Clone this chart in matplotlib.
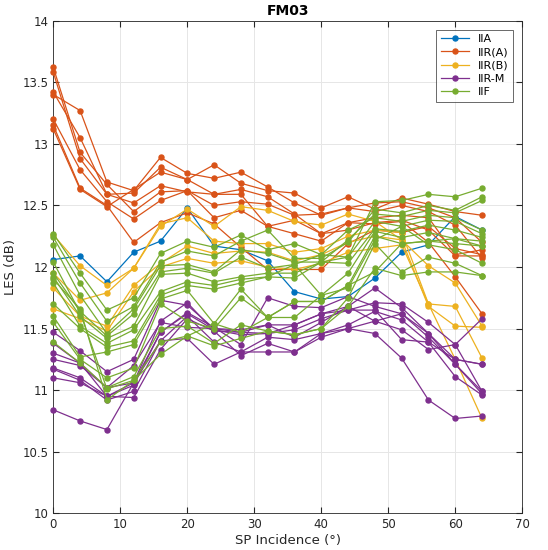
import matplotlib
matplotlib.use("Agg")
import matplotlib.pyplot as plt
import numpy as np

x_deg = [0, 4, 8, 12, 16, 20, 24, 28, 32, 36, 40, 44, 48, 52, 56, 60, 64]

iia = [[12.06, 12.09, 11.88, 12.12, 12.21, 12.48, 12.17, 12.14, 12.05, 11.80, 11.74, 11.76, 11.91, 12.12, 12.18, 12.41, 12.30]]

iir_a = [
    [13.62, 12.93, 12.67, 12.45, 12.61, 12.62, 12.50, 12.53, 12.51, 12.42, 12.43, 12.48, 12.45, 12.50, 12.45, 12.34, 12.07],
    [13.58, 12.88, 12.59, 12.60, 12.81, 12.71, 12.83, 12.68, 12.62, 12.60, 12.48, 12.57, 12.47, 12.56, 12.51, 12.45, 12.42],
    [13.40, 13.27, 12.69, 12.62, 12.89, 12.76, 12.72, 12.77, 12.65, 12.52, 12.42, 12.48, 12.52, 12.53, 12.48, 12.40, 12.20],
    [13.42, 13.05, 12.59, 12.52, 12.66, 12.61, 12.59, 12.63, 12.57, 12.43, 12.27, 12.36, 12.40, 12.42, 12.40, 12.10, 12.14],
    [13.20, 12.79, 12.53, 12.39, 12.54, 12.62, 12.40, 12.46, 12.33, 12.38, 12.27, 12.30, 12.36, 12.38, 12.30, 12.09, 12.09],
    [13.15, 12.64, 12.50, 12.20, 12.36, 12.44, 12.35, 12.16, 11.98, 11.98, 11.98, 12.19, 12.30, 12.28, 12.33, 12.15, 12.10],
    [13.12, 12.63, 12.49, 12.63, 12.77, 12.71, 12.59, 12.59, 12.33, 12.27, 12.21, 12.36, 12.35, 12.37, 12.20, 11.92, 11.62],
]

iir_b = [
    [12.26, 12.01, 11.85, 11.99, 12.33, 12.47, 12.33, 12.49, 12.46, 12.37, 12.34, 12.43, 12.37, 12.22, 12.01, 11.87, 11.52],
    [11.95, 11.73, 11.79, 11.99, 12.35, 12.40, 12.21, 12.19, 12.19, 12.12, 12.15, 12.25, 12.30, 12.28, 11.70, 11.68, 11.26],
    [11.83, 11.60, 11.52, 11.85, 12.03, 12.17, 12.11, 12.13, 12.12, 12.05, 12.10, 12.20, 12.25, 12.22, 11.68, 11.52, 11.51],
    [11.66, 11.58, 11.48, 11.80, 12.00, 12.07, 12.03, 12.05, 12.00, 11.98, 12.03, 12.12, 12.15, 12.18, 11.70, 11.25, 10.77],
]

iir_m = [
    [11.47, 11.32, 11.15, 11.25, 11.73, 11.69, 11.50, 11.49, 11.53, 11.53, 11.62, 11.68, 11.83, 11.67, 11.46, 11.25, 11.21],
    [11.30, 11.22, 11.02, 11.06, 11.56, 11.71, 11.48, 11.47, 11.46, 11.49, 11.58, 11.65, 11.71, 11.70, 11.55, 11.37, 10.99],
    [11.18, 11.10, 10.95, 11.04, 11.47, 11.63, 11.51, 11.37, 11.75, 11.68, 11.67, 11.76, 11.68, 11.62, 11.43, 11.21, 10.97],
    [11.17, 11.08, 10.92, 10.99, 11.40, 11.60, 11.39, 11.31, 11.43, 11.41, 11.46, 11.53, 11.64, 11.57, 11.39, 11.11, 10.96],
    [11.10, 11.06, 10.95, 10.94, 11.33, 11.58, 11.48, 11.28, 11.38, 11.31, 11.43, 11.50, 11.56, 11.49, 11.33, 11.37, 11.58],
    [10.84, 10.75, 10.68, 11.06, 11.40, 11.42, 11.21, 11.31, 11.31, 11.31, 11.46, 11.50, 11.46, 11.26, 10.92, 10.77, 10.79],
    [11.38, 11.22, 10.95, 11.06, 11.47, 11.62, 11.49, 11.45, 11.46, 11.53, 11.62, 11.65, 11.65, 11.41, 11.39, 11.25, 11.21],
    [11.25, 11.20, 11.02, 11.20, 11.55, 11.51, 11.50, 11.47, 11.53, 11.43, 11.55, 11.68, 11.56, 11.62, 11.46, 11.21, 10.99],
]

iif = [
    [12.27, 11.95, 11.65, 11.75, 12.11, 12.21, 12.16, 12.26, 12.14, 12.19, 12.10, 12.08, 12.53, 12.54, 12.59, 12.57, 12.64],
    [12.24, 11.87, 11.56, 11.68, 12.04, 12.13, 12.09, 12.21, 12.30, 12.07, 12.07, 12.20, 12.47, 12.44, 12.50, 12.46, 12.57],
    [12.18, 11.77, 11.46, 11.66, 12.01, 12.02, 11.96, 12.14, 12.11, 12.04, 12.04, 12.22, 12.43, 12.41, 12.46, 12.44, 12.54],
    [11.95, 11.64, 11.44, 11.62, 11.96, 11.99, 11.95, 12.08, 11.99, 12.02, 12.10, 12.30, 12.40, 12.37, 12.42, 12.40, 12.30],
    [11.92, 11.60, 11.42, 11.52, 11.94, 11.95, 11.88, 11.92, 11.95, 11.95, 12.04, 12.08, 12.37, 12.33, 12.38, 12.37, 12.27],
    [11.87, 11.52, 11.38, 11.49, 11.80, 11.88, 11.85, 11.90, 11.92, 11.91, 12.04, 12.03, 12.31, 12.29, 12.34, 12.30, 12.24],
    [11.70, 11.50, 11.35, 11.40, 11.77, 11.85, 11.82, 11.87, 11.92, 12.02, 11.77, 11.95, 12.29, 12.24, 12.28, 12.23, 12.21],
    [11.60, 11.27, 11.31, 11.37, 11.74, 11.81, 11.54, 11.82, 11.59, 11.72, 11.72, 11.85, 12.25, 12.19, 12.21, 12.19, 12.17],
    [11.55, 11.25, 11.10, 11.18, 11.70, 11.56, 11.50, 11.75, 11.59, 11.59, 11.77, 11.83, 12.22, 12.33, 12.18, 12.14, 12.03],
    [11.39, 11.22, 11.02, 11.11, 11.50, 11.52, 11.38, 11.53, 11.48, 11.45, 11.50, 11.75, 12.19, 11.96, 12.08, 12.03, 11.93],
    [12.04, 11.63, 11.01, 11.08, 11.39, 11.44, 11.36, 11.42, 11.48, 11.45, 11.50, 11.68, 11.99, 11.93, 11.96, 11.96, 11.93],
    [11.90, 11.66, 10.92, 11.08, 11.29, 11.44, 11.54, 11.47, 11.59, 11.72, 11.72, 11.85, 11.96, 12.19, 12.21, 12.23, 12.17],
]

series_names = ["IIA", "IIR(A)", "IIR(B)", "IIR-M", "IIF"]
series_data = [iia, iir_a, iir_b, iir_m, iif]
series_colors = ["#0072BD", "#D95319", "#EDB120", "#7E2F8E", "#77AC30"]

plt.rcParams['font.family'] = ['DejaVu Sans']
fig = plt.figure(figsize=(5.48, 5.50), dpi=100)
ax = fig.add_axes([0.0973, 0.0667, 0.8557, 0.8957])

handles = []
for name, data, col in zip(series_names, series_data, series_colors):
    for i, ys in enumerate(data):
        ln, = ax.plot(x_deg, ys, color=col, marker='o', markersize=3.6, linewidth=0.9,
                      label=name if i == 0 else None, clip_on=False, zorder=3)
        if i == 0:
            handles.append(ln)

ax.set_xlim(0, 70)
ax.set_ylim(10, 14)
ax.set_xticks(np.arange(0, 71, 10))
ax.set_yticks(np.arange(10, 14.01, 0.5))
ax.set_yticklabels(["10", "10.5", "11", "11.5", "12", "12.5", "13", "13.5", "14"])
ax.grid(True, color="#e6e6e6", linewidth=0.7)
ax.set_axisbelow(True)
ax.tick_params(direction='in', top=True, right=True, labelsize=8.5, colors="#262626", length=4)
for sp in ax.spines.values():
    sp.set_color("#262626")
    sp.set_linewidth(0.6)
ax.set_title("FM03", fontsize=10, fontweight='bold', pad=4)
ax.set_xlabel("SP Incidence (°)", fontsize=9.5, color="#262626", labelpad=2)
ax.set_ylabel("LES (dB)", fontsize=9.5, color="#262626", labelpad=4)

leg = ax.legend(handles=handles, labels=series_names, loc='upper right', fontsize=8,
                frameon=True, fancybox=False, edgecolor="#262626", handlelength=2.6,
                borderaxespad=0.8, labelspacing=0.3)
leg.get_frame().set_linewidth(0.6)
leg.set_zorder(5)

fig.savefig("out.png", dpi=100)
